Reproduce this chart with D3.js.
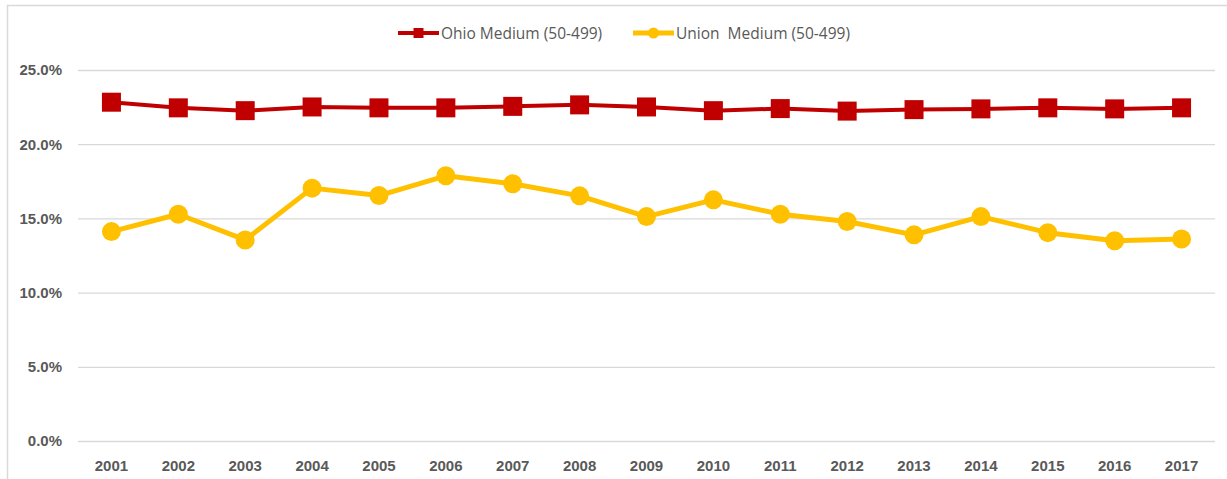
<!DOCTYPE html>
<html>
<head>
<meta charset="utf-8">
<script src="https://cdn.jsdelivr.net/npm/d3@7"></script>
<style>
  html, body { margin: 0; padding: 0; background: #fff; }
  svg { display: block; font-family: "Open Sans", "Lato", sans-serif; }
</style>
</head>
<body>
<div id="chart"></div>
<script>
const years = ["2001", "2002", "2003", "2004", "2005", "2006", "2007", "2008", "2009",
    "2010", "2011", "2012", "2013", "2014", "2015", "2016", "2017"];
const ohioMedium = [22.83, 22.45, 22.26, 22.51, 22.45, 22.45, 22.55, 22.65, 22.51,
    22.26, 22.40, 22.23, 22.33, 22.38, 22.45, 22.38, 22.45];
const unionMedium = [14.11, 15.28, 13.55, 17.04, 16.54, 17.87, 17.33, 16.52, 15.12,
    16.25, 15.28, 14.79, 13.89, 15.12, 14.04, 13.50, 13.61];
const yTicks = [0, 5, 10, 15, 20, 25];
const seriesNames = ["Ohio Medium (50-499)", "Union  Medium (50-499)"];

const W = 1227, H = 479;
const margin = { top: 70, right: 12, bottom: 38, left: 78 };
const width = W - margin.left - margin.right;
const height = H - margin.top - margin.bottom;

const svg = d3.select("#chart").append("svg")
    .attr("width", W)
    .attr("height", H);

// chart area border (top and left edges visible)
svg.append("path")
    .attr("d", `M7.5,${H} V5.5 H${W}`)
    .attr("fill", "none")
    .attr("stroke", "#d9d9d9")
    .attr("stroke-width", 1.5);

const g = svg.append("g")
    .attr("transform", `translate(${margin.left},${margin.top})`);

const x = d3.scaleBand()
    .domain(years)
    .range([0, width])
    .padding(0);

const y = d3.scaleLinear()
    .domain([0, 25])
    .range([height, 0]);

// gridlines + y labels
const yAxis = g.append("g")
    .call(d3.axisLeft(y).tickValues(yTicks).tickSize(-width).tickFormat(d => d.toFixed(1) + "%"));
yAxis.select(".domain").remove();
yAxis.selectAll(".tick line")
    .attr("stroke", "#d9d9d9")
    .attr("stroke-width", 1.3);
yAxis.selectAll(".tick text")
    .attr("x", -16)
    .attr("fill", "#595959")
    .style("font-size", "15px")
    .style("font-weight", "bold");

// x labels
const xAxis = g.append("g")
    .attr("transform", `translate(0,${height})`)
    .call(d3.axisBottom(x).tickSize(0));
xAxis.select(".domain").remove();
xAxis.selectAll(".tick text")
    .attr("dy", "0")
    .attr("y", 30)
    .attr("fill", "#595959")
    .style("font-size", "15px")
    .style("font-weight", "bold");

const cx = d => x(d) + x.bandwidth() / 2;

const line = d3.line()
    .x((d, i) => cx(years[i]))
    .y(d => y(d));

// Ohio series
g.append("path")
    .datum(ohioMedium)
    .attr("fill", "none")
    .attr("stroke", "#c00000")
    .attr("stroke-width", 4)
    .attr("stroke-linejoin", "round")
    .attr("d", line);

g.selectAll(".ohio")
    .data(ohioMedium)
    .enter().append("rect")
    .attr("class", "ohio")
    .attr("x", (d, i) => cx(years[i]) - 9.5)
    .attr("y", d => y(d) - 9.5)
    .attr("width", 19)
    .attr("height", 19)
    .attr("fill", "#c00000");

// Union series
g.append("path")
    .datum(unionMedium)
    .attr("fill", "none")
    .attr("stroke", "#ffc000")
    .attr("stroke-width", 5)
    .attr("stroke-linejoin", "round")
    .attr("d", line);

g.selectAll(".union")
    .data(unionMedium)
    .enter().append("circle")
    .attr("class", "union")
    .attr("cx", (d, i) => cx(years[i]))
    .attr("cy", d => y(d))
    .attr("r", 9.5)
    .attr("fill", "#ffc000");

// legend
const legend = svg.append("g").attr("transform", "translate(398,33)");
const legendItems = [
    { name: seriesNames[0], color: "#c00000", shape: "square", x: 0, w: 4 },
    { name: seriesNames[1], color: "#ffc000", shape: "circle", x: 235, w: 5 }
];
legendItems.forEach(it => {
    const lg = legend.append("g").attr("transform", `translate(${it.x},0)`);
    lg.append("line")
        .attr("x1", 0).attr("x2", 41)
        .attr("y1", 0).attr("y2", 0)
        .attr("stroke", it.color)
        .attr("stroke-width", it.w);
    if (it.shape === "square") {
        lg.append("rect")
            .attr("x", 15.5).attr("y", -5)
            .attr("width", 10).attr("height", 10)
            .attr("fill", it.color);
    } else {
        lg.append("circle")
            .attr("cx", 20.5).attr("cy", 0).attr("r", 5.5)
            .attr("fill", it.color);
    }
    lg.append("text")
        .attr("x", 43)
        .attr("y", 5.5)
        .attr("fill", "#595959")
        .style("font-size", "15.5px")
        .style("white-space", "pre")
        .text(it.name);
});
</script>
</body>
</html>
